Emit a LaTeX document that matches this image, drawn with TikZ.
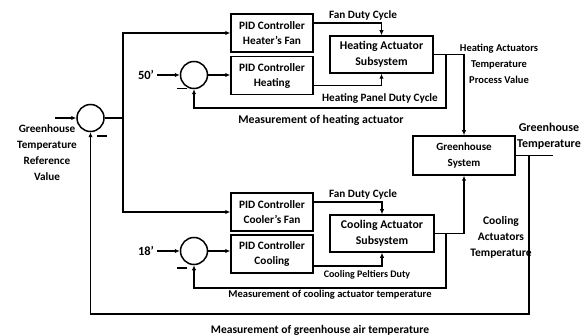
\documentclass[tikz,border=0pt]{standalone}
\usepackage{fontspec}
\setmainfont{Carlito}
\usetikzlibrary{arrows.meta}
\newcommand\lblfont[1]{\fontsize{#1}{16}\selectfont\bfseries}
\tikzset{
  wire/.style={line width=1.5pt},
  sig/.style={wire, -{Latex[length=5pt,width=4.5pt]}},
  blk/.style={draw, wire, align=center, inner sep=1pt, font=\lblfont{11.8}},
  pidblk/.style={blk, minimum width=82pt, minimum height=38pt,
    font=\fontsize{11.3}{15}\selectfont\bfseries},
  sumnode/.style={draw, wire, circle, minimum size=27pt, inner sep=0pt},
  lbl/.style={align=center, inner sep=0pt, font=\lblfont{11.2}},
  setpt/.style={inner sep=0pt, font=\fontsize{12.5}{14}\selectfont\bfseries},
  minus/.style={inner sep=0pt},
}
\begin{document}
\begin{tikzpicture}[x=1pt,y=-1pt]
      \useasboundingbox (0,0) rectangle (585,336);

      % summing junctions
      \node[sumnode] (s0) at (90.5,118) {};
      \node[sumnode] (sh) at (194,75) {};
      \node[sumnode] (sc) at (194,251) {};
      \node[minus] at (102,136) {\rule{10pt}{1.5pt}};
      \node[minus] at (182,88.5) {\rule{10pt}{1.5pt}};
      \node[minus] at (182,268) {\rule{10pt}{1.5pt}};

      % blocks
      \node[pidblk] (pidhf) at (272,33) {PID Controller\\Heater’s Fan};
      \node[pidblk] (pidh) at (272,75.5) {PID Controller\\Heating};
      \node[pidblk] (pidcf) at (272,212) {PID Controller\\Cooler’s Fan};
      \node[pidblk] (pidc) at (272,254) {PID Controller\\Cooling};
      \node[blk, minimum width=103pt, minimum height=37pt] (ha) at (381.5,54.5) {Heating Actuator\\Subsystem};
      \node[blk, minimum width=104pt, minimum height=37pt] (ca) at (382,233.5) {Cooling Actuator\\Subsystem};
      \node[blk, minimum width=102pt, minimum height=39pt, font=\lblfont{11}] (gs) at (464,155.5) {Greenhouse\\System};

      % set points and inputs
      \node[setpt] (sph) at (146,75) {50’};
      \node[setpt] (spc) at (146,251) {18’};
      \coordinate (ref) at (55,118);
      \draw[sig] (ref) -- (s0.west);
      \draw[sig] (sph.east) ++(3,0) -- (sh.west);
      \draw[sig] (spc.east) ++(3,0) -- (sc.west);

      % reference branch
      \coordinate (br) at (123,118);
      \draw[wire] (s0.east) -- (br);
      \draw[sig] (br) |- (pidhf.west);
      \draw[sig] (br) |- (pidcf.west);
      \draw[sig] (sh.east) -- (sh.east -| pidh.west);
      \draw[sig] (sc.east) -- (sc.east -| pidc.west);

      % heating loop
      \draw[sig] ([yshift=10pt]pidhf.east) -| (ha.north);
      \draw[sig] ([yshift=-10pt]pidh.east) -| (ha.south);
      \coordinate (hj) at (446,54.5);
      \coordinate (hfb) at (446,108);
      \draw[sig] (ha.east) -| (gs.north);
      \draw[sig] (hj) -- (hfb) -| (sh.south);

      % cooling loop
      \draw[sig] ([yshift=10pt]pidcf.east) -| (ca.north);
      \draw[sig] ([yshift=-12pt]pidc.east) -| (ca.south);
      \coordinate (cj) at (446,233.5);
      \coordinate (cfb) at (446,288);
      \draw[sig] (ca.east) -| (gs.south);
      \draw[sig] (cj) -- (cfb) -| (sc.south);

      % greenhouse output
      \coordinate (gout) at (553,155.5);
      \coordinate (gj) at (529,155.5);
      \coordinate (gfb) at (529,314);
      \draw[wire] (gs.east) -- (gout);
      \draw[sig] (gj) -- (gfb) -| (s0.south);

      % labels
      \node[lbl] at (47,152.5) {Greenhouse\\Temperature\\Reference\\Value};
      \node[lbl] at (363,15) {Fan Duty Cycle};
      \node[lbl] at (380,99) {Heating Panel Duty Cycle};
      \node[lbl, font=\lblfont{11.8}] at (321,120) {Measurement of heating actuator};
      \node[lbl, font=\lblfont{10.5}] at (499,64) {Heating Actuators\\Temperature\\Process Value};
      \node[lbl, font=\lblfont{12}] at (549,136.5) {Greenhouse\\Temperature};
      \node[lbl] at (363,194) {Fan Duty Cycle};
      \node[lbl, font=\lblfont{10}] at (367,275) {Cooling Peltiers Duty};
      \node[lbl, font=\lblfont{10.5}] at (330,295) {Measurement of cooling actuator temperature};
      \node[lbl, font=\lblfont{11.5}] at (501,237) {Cooling\\Actuators\\Temperature};
      \node[lbl, font=\lblfont{11.6}] at (320,330) {Measurement of greenhouse air temperature};
\end{tikzpicture}
\end{document}
